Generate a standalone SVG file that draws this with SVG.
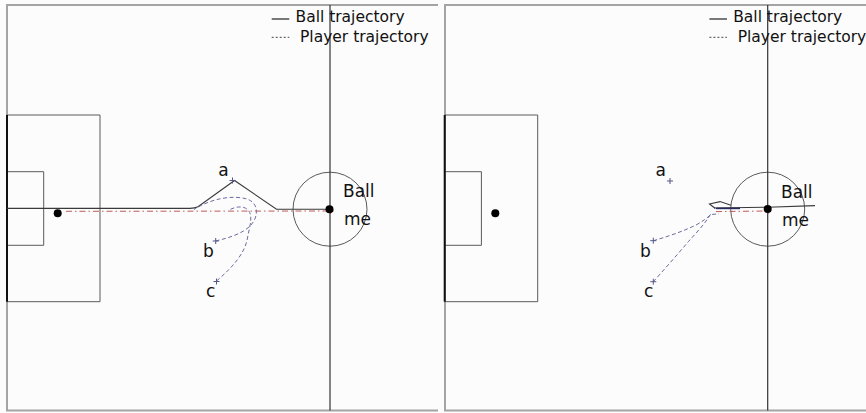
<svg xmlns="http://www.w3.org/2000/svg" width="866" height="413" viewBox="0 0 866 413">
<defs>
<style>
.frame{fill:none;stroke:#a4a4a4;stroke-width:2}
.pitch{fill:none;stroke:#5a5a5a;stroke-width:1}
.goal{stroke:#111;stroke-width:2}
.mid{stroke:#333;stroke-width:1.2}
.ball{fill:none;stroke:#3a3a3a;stroke-width:1.1}
.player{fill:none;stroke:#6c6ca0;stroke-width:1;stroke-dasharray:4 2.5}
.red{fill:none;stroke:#c05a5a;stroke-width:1;stroke-dasharray:6 3 1.5 3}
.cross{stroke:#55558a;stroke-width:1}
.lbl{font-family:"DejaVu Sans",sans-serif;font-size:17px;fill:#111}
.leg{font-family:"DejaVu Sans",sans-serif;font-size:15.5px;fill:#111}
</style>
<g id="pitchbase">
<path class="pitch" d="M7,115 H100 V301.7 H7 M7,171.7 H43.7 V245.3 H7"/>
<line class="goal" x1="7" y1="115" x2="7" y2="301.7"/>
<circle class="pitch" cx="330" cy="209.2" r="37"/>
<line class="mid" x1="330" y1="5" x2="330" y2="410.5"/>
<line x1="271.7" y1="19" x2="289.3" y2="19" stroke="#222" stroke-width="1.2"/>
<line x1="271.7" y1="37.3" x2="289.3" y2="37.3" stroke="#444" stroke-width="1" stroke-dasharray="2 2"/>
<text class="leg" x="295.5" y="22">Ball trajectory</text>
<text class="leg" x="300" y="42">Player trajectory</text>
</g>
</defs>
<rect width="866" height="413" fill="#fcfcfc"/>
<g id="panel-left">
<path class="frame" d="M438,5 H7 V410.5 H438"/>
<use href="#pitchbase"/>
<circle id="goal-dot-left" cx="57.7" cy="213.3" r="4" fill="#000"/>
</g>
<g id="panel-right">
<path class="frame" d="M866,5 H445 V410.5 H866"/>
<use href="#pitchbase" transform="translate(437.7,0)"/>
<circle id="goal-dot-right" cx="495.3" cy="213.3" r="4" fill="#000"/>
</g>
<g id="connectors">
<path class="red" d="M66,211.3 L330,211"/>
<path class="ball" d="M7,208.4 L190,208.4 Q195,208.2 198,206.8 L234.5,180.5 L276.5,209.2 L330,209.3"/>
<path class="player" d="M215.7,241 C228,238 242,234 250,226 C259,217 259,203 247,199 C233,195 212,198 194,209.5"/>
<path class="player" d="M216.5,281 C233,267 245,253 247.5,238 C250,224 255,212 244,207.5 C238,206 233,208 229,210"/>
<path class="red" d="M716,211.6 L767.7,211"/>
<path class="ball" d="M714,208 L767.7,207.2 L815,205.6"/>
<path class="ball" d="M731,205.2 L720,201.6 L709.5,204 L715,208.2"/>
<path d="M716,208.4 L740,208.4" stroke="#2a2a5e" stroke-width="1.6"/>
<path class="player" d="M653.3,240.7 C668,236.5 684,231 697,224.5 C703,221 707,218 711,214.5 L719,213.8"/>
<path class="player" d="M653.3,281.7 C662,272 677,255 688.3,241.7 C696,233 705,224 711,213.5"/>
</g>
<g id="player-a-left"><path class="cross" d="M229.5,180.5 H235.5 M232.5,177.5 V183.5"/><text class="lbl" x="218.3" y="175.7" font-size="16">a</text></g>
<g id="player-b-left"><path class="cross" d="M212.7,241 H218.7 M215.7,238 V244"/><text class="lbl" x="203" y="257">b</text></g>
<g id="player-c-left"><path class="cross" d="M213.5,281.5 H219.5 M216.5,278.5 V284.5"/><text class="lbl" x="206" y="297">c</text></g>
<g id="ball-left"><path d="M327.5,211 H333.5 M330.5,208 V214" stroke="#c03030" stroke-width="1"/><circle cx="329.5" cy="209.3" r="4" fill="#000"/><text class="lbl" x="343" y="197.3">Ball</text><text class="lbl" x="344" y="225.3">me</text></g>
<g id="player-a-right"><path class="cross" d="M667,181 H673 M670,178 V184"/><text class="lbl" x="655.5" y="176.3">a</text></g>
<g id="player-b-right"><path class="cross" d="M650.3,240.7 H656.3 M653.3,237.7 V243.7"/><text class="lbl" x="640" y="257.3">b</text></g>
<g id="player-c-right"><path class="cross" d="M650.3,281.7 H656.3 M653.3,278.7 V284.7"/><text class="lbl" x="644" y="297">c</text></g>
<g id="ball-right"><path d="M765,211 H771 M768,208 V214" stroke="#c03030" stroke-width="1"/><circle cx="767.7" cy="209" r="4" fill="#000"/><text class="lbl" x="781" y="198.3">Ball</text><text class="lbl" x="782" y="226">me</text></g>
</svg>
